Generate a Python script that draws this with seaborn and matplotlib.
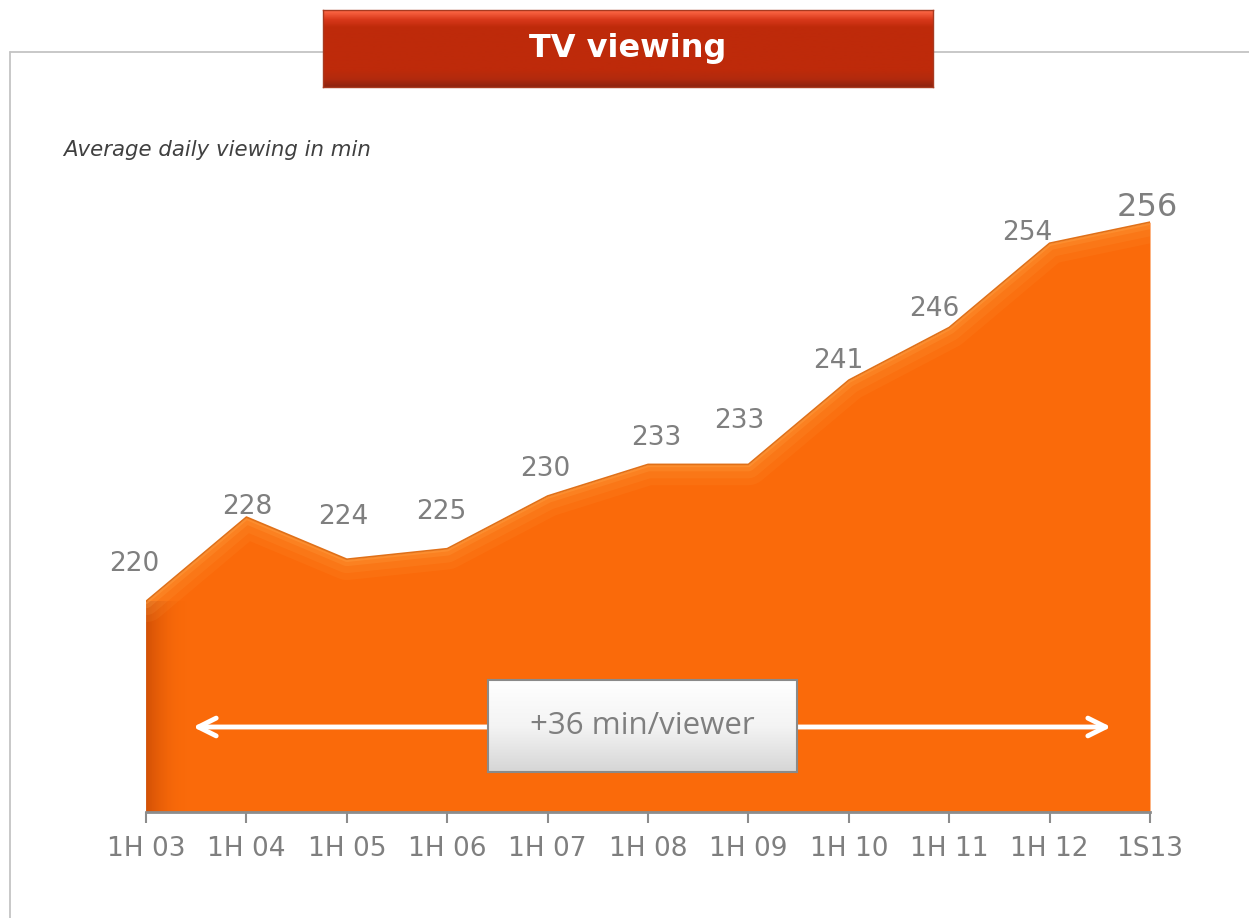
import numpy as np
import matplotlib
matplotlib.use("Agg")
import matplotlib.pyplot as plt
from matplotlib.colors import LinearSegmentedColormap
from matplotlib.patches import Polygon
import seaborn as sns

# chart data
periods = ["1H 03", "1H 04", "1H 05", "1H 06", "1H 07", "1H 08",
           "1H 09", "1H 10", "1H 11", "1H 12", "1S13"]
viewing_min = [220, 228, 224, 225, 230, 233, 233, 241, 246, 254, 256]
growth_label = "+36 min/viewer"

# label nudges in pixels (dx, dy) to mimic the original placement
label_offsets = [(-12, 37), (1, 10), (-4, 42), (-6, 37), (-2, 27), (8, 26),
                 (-9, 43), (-11, 19), (-15, 18), (-22, 10), (-3, 15)]

sns.set_theme(style="white")
plt.rcParams["font.family"] = ["DejaVu Sans"]

W, H = 1249, 918
fig = plt.figure(figsize=(W / 100, H / 100), dpi=100)


def px_box(x0, y0, x1, y1):
    """pixel box (top-left origin) -> figure fraction rect"""
    return [x0 / W, (H - y1) / H, (x1 - x0) / W, (y1 - y0) / H]


# frame lines behind everything
frame = fig.add_axes([0, 0, 1, 1], zorder=0)
frame.set_xlim(0, W)
frame.set_ylim(H, 0)
frame.axis("off")
frame.plot([10, W], [52, 52], color="#C4C4C4", lw=1.3)
frame.plot([10, 10], [52, H], color="#C4C4C4", lw=1.3)
frame.text(63, 150, "Average daily viewing in min", fontsize=15.3, style="italic",
           color="#404040", va="center", ha="left")

# main area chart
ax = fig.add_axes(px_box(146, 180, 1150, 812), zorder=2)
x = np.arange(len(viewing_min))
base = 200
ax.fill_between(x, viewing_min, base, color="#FA6A0A", lw=0)
clip = Polygon([(0, base)] + list(zip(x, viewing_min)) + [(x[-1], base)],
               closed=True, transform=ax.transData)

# soft bevel along top edge, kept inside the area
for lw, a in [(30, 0.10), (20, 0.14), (10, 0.22), (4, 0.35)]:
    sns.lineplot(x=x, y=viewing_min, ax=ax, color="#FFA548", lw=lw, alpha=a)
    ax.lines[-1].set_clip_path(clip)
sns.lineplot(x=x, y=viewing_min, ax=ax, color="#E07018", lw=1.2)

# darker left edge fading to the right
h = np.linspace(1, 0, 100).reshape(1, -1)
dark = LinearSegmentedColormap.from_list(
    "d", [(0, (0.98, 0.42, 0.04, 0)), (1, (0.80, 0.30, 0.02, 0.85))])
im = ax.imshow(h, aspect="auto", cmap=dark, extent=[0, 0.4, base, viewing_min[0]],
               zorder=1.5, interpolation="bilinear")
im.set_clip_path(clip)

ax.set_xlim(0, len(viewing_min) - 1)
ax.set_ylim(base, 260)
ax.set_xticks(x)
ax.set_xticklabels(periods, fontsize=19, color="#7F7F7F")
ax.set_yticks([])
for s in ["top", "right", "left"]:
    ax.spines[s].set_visible(False)
ax.spines["bottom"].set_color("#8C8C8C")
ax.spines["bottom"].set_linewidth(2)
ax.tick_params(axis="x", length=8, width=1.5, color="#8C8C8C", pad=9,
               direction="out", bottom=True)
ax.set_xlabel("")
ax.set_ylabel("")

for i, (v, (dx, dy)) in enumerate(zip(viewing_min, label_offsets)):
    last = i == len(viewing_min) - 1
    ax.annotate(str(v), (i, v), xytext=(dx, dy), textcoords="offset pixels",
                ha="center", va="center", color="#7F7F7F",
                fontsize=23 if last else 19, annotation_clip=False)

# growth arrow
arrow_y = base + (812 - 727) / 632 * 60
ax.annotate("", xy=(9.64, arrow_y), xytext=(0.44, arrow_y),
            arrowprops=dict(arrowstyle="<->", color="white", lw=3.5,
                            mutation_scale=32))

# growth label box with a light gradient
gbox = fig.add_axes(px_box(488, 680, 797, 772), zorder=3)
g = np.linspace(0, 1, 100).reshape(-1, 1)
grey_cmap = LinearSegmentedColormap.from_list("g", ["#FFFFFF", "#F4F4F4", "#D6D6D6"])
gbox.imshow(g, aspect="auto", cmap=grey_cmap, extent=[0, 1, 0, 1])
gbox.set_xticks([])
gbox.set_yticks([])
for s in gbox.spines.values():
    s.set_color("#8A8A8A")
    s.set_linewidth(1.5)
gbox.text(0.5, 0.5, growth_label, ha="center", va="center", fontsize=22.5,
          color="#7F7F7F", family="Open Sans", transform=gbox.transAxes)

# title banner
tbox = fig.add_axes(px_box(323, 10, 933, 87), zorder=3)
red_cmap = LinearSegmentedColormap.from_list(
    "r", [(0, "#FF6A48"), (0.12, "#D8381A"), (0.22, "#BE2A0A"),
          (0.78, "#BE2A0A"), (0.9, "#B22A0E"), (1, "#8E2410")])
tbox.imshow(g, aspect="auto", cmap=red_cmap, extent=[0, 1, 0, 1])
tbox.set_xticks([])
tbox.set_yticks([])
for s in tbox.spines.values():
    s.set_color("#A83A20")
    s.set_linewidth(1)
tbox.text(0.5, 0.5, "TV viewing", ha="center", va="center", fontsize=23,
          fontweight="bold", color="white", transform=tbox.transAxes)

fig.savefig("out.png", dpi=100, facecolor="white")
